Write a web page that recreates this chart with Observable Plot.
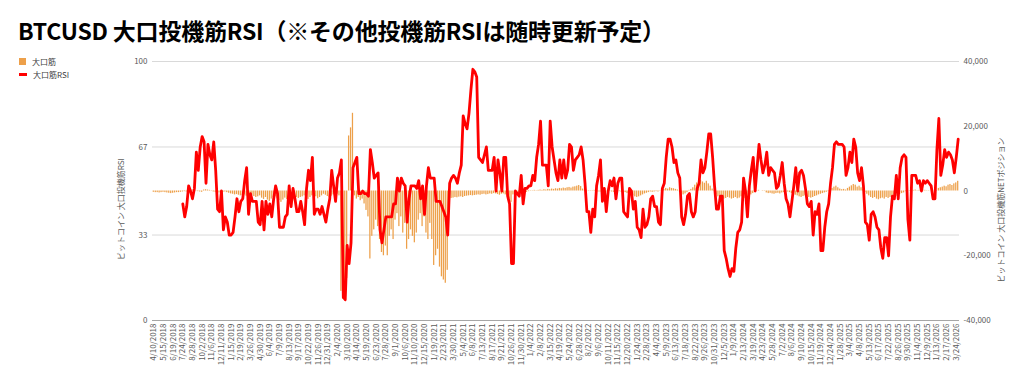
<!DOCTYPE html>
<html>
<head>
<meta charset="utf-8">
<script src="https://cdn.jsdelivr.net/npm/d3@7"></script>
<script src="https://cdn.jsdelivr.net/npm/@observablehq/plot@0.6"></script>
<style>
  body { margin: 0; background: #fff; }
  #wrap { position: relative; width: 1024px; height: 380px; overflow: hidden; font-family: "Noto Sans CJK JP", "Noto Sans", sans-serif; }
  #title { position: absolute; left: 18px; top: 13px; font-size: 23px; font-weight: 700; color: #000; white-space: nowrap; letter-spacing: -0.2px; }
  #legend { position: absolute; left: 19px; top: 55px; font-size: 8px; color: #404040; line-height: 13px; }
  .li { display: flex; align-items: center; height: 13px; }
  .sw { display: inline-block; margin-right: 6px; }
  #chart { position: absolute; left: 0; top: 50px; }
  .ytitle { position: absolute; font-size: 8px; color: #595959; white-space: nowrap; transform: translate(-50%, -50%) rotate(-90deg); }
</style>
</head>
<body>
<div id="wrap">
  <div id="title"></div>
  <div id="legend"></div>
  <div id="chart"></div>
  <div class="ytitle" id="ytl" style="left:120px; top:209px;"></div>
  <div class="ytitle" id="ytr" style="left:1000px; top:210px;"></div>
</div>
<script>
// ---- Text ----
const titleText = "BTCUSD 大口投機筋RSI（※その他投機筋RSIは随時更新予定）";
const seriesNames = ["大口筋", "大口筋RSI"];
const leftAxisTitle = "ビットコイン 大口投機筋RSI";
const rightAxisTitle = "ビットコイン 大口投機筋NETポジション";

// ---- Categories (weekly, Tuesdays) ----
const firstWeek = "2018-04-10";
const tickLabels = [
  "4/10/2018","5/15/2018","6/19/2018","7/24/2018","8/28/2018","10/2/2018","11/6/2018","12/11/2018",
  "1/15/2019","2/19/2019","3/26/2019","4/30/2019","6/4/2019","7/9/2019","8/13/2019","9/17/2019","10/22/2019","11/26/2019","12/31/2019",
  "2/4/2020","3/10/2020","4/14/2020","5/19/2020","6/23/2020","7/28/2020","9/1/2020","10/6/2020","11/10/2020","12/15/2020",
  "1/19/2021","2/23/2021","3/30/2021","5/4/2021","6/8/2021","7/13/2021","8/17/2021","9/21/2021","10/26/2021","11/30/2021",
  "1/4/2022","2/8/2022","3/15/2022","4/19/2022","5/24/2022","6/28/2022","8/2/2022","9/6/2022","10/11/2022","11/15/2022","12/20/2022",
  "1/24/2023","2/28/2023","4/4/2023","5/9/2023","6/13/2023","7/18/2023","8/22/2023","9/26/2023","10/31/2023","12/5/2023",
  "1/9/2024","2/13/2024","3/19/2024","4/23/2024","5/28/2024","7/2/2024","8/6/2024","9/10/2024","10/15/2024","11/19/2024","12/24/2024",
  "1/28/2025","3/4/2025","4/8/2025","5/13/2025","6/17/2025","7/22/2025","8/26/2025","9/30/2025","11/4/2025","12/9/2025",
  "1/13/2026","2/17/2026","3/24/2026"
];

// ---- Axis ticks ----
const leftTicks = [0, 33, 67, 100];
const rightTicks = [-40000, -20000, 0, 20000, 40000];
const rightTickLabels = ["-40,000", "-20,000", "0", "20,000", "40,000"];

// ---- Series: large speculators net position (contracts), one per week from 4/10/2018 ----
const netPositions = [
  -400,-500,-500,-600,-500,-400,-500,-600,-700,-800,-700,-600,-500,-500,-400,-300,
  -200,-300,-100,200,300,200,100,-200,-300,-400,300,400,300,200,-100,-300,-400,-500,-600,-500,-400,-300,-500,-700,
  -900,-1000,-1200,-1100,-1300,-1500,-1400,-1200,-1600,-1800,-1500,-1300,-1700,-2000,-1800,
  -1500,-2200,-2600,-2000,-2800,-3200,-2500,-2000,-1800,-2400,-3000,-3500,-2800,-2200,-2600,-3300,-3800,-3000,-2500,-2000,-2300,
  -2000,-1800,-1500,-2200,-2600,-2000,-1500,-1200,-1800,-2400,-2000,-1500,-1000,-1300,-1700,-2000,-1600,-1200,-800,-1000,-1500,
  -31000,-33500,-33000,-27000,17000,19500,24000,
  -1500,-2500,-2000,-3000,-2500,-4000,-6000,-8000,-21000,-14000,
  -12000,-9000,-11000,-15000,-19000,-20000,-17000,-20000,-14000,-12000,
  -15000,-9000,-7000,-11000,-8000,-13000,-10000,-18000,-15000,-12000,
  -14000,-16000,-13000,-9000,-7000,-11000,-8000,-13000,-15000,-10000,
  -15000,-23000,-20000,-18000,-23500,-26500,-27500,-28500,-24500,
  -2500,-2300,-2200,-2000,-2100,-1900,-1800,-2000,-1700,-1600,-1500,-1400,-1500,
  -1400,-1300,-1200,-1300,-1100,-1000,-1200,-1100,-900,-1000,-800,-900,-1100,-1300,-1000,-900,-1200,
  -1500,-2500,-3500,-1200,
  -600,-500,-700,-400,-500,-300,-400,-200,-100,100,
  200,100,200,300,200,400,300,500,400,600,
  500,700,600,800,700,900,800,1000,1100,900,
  1200,1300,1500,1700,1400,600,300,200,100,-100,
  100,200,-200,-300,
  -300,-500,-400,-300,-200,-100,-300,-400,-500,-300,-200,-400,-600,-500,-800,-1000,-1200,-1500,-1800,-2000,
  -1800,-1500,-1200,-900,-700,-500,-300,-400,-300,-200,-300,-100,
  300,500,800,600,1000,800,700,500,300,-200,
  -800,-1200,-900,-500,200,500,1000,1800,2500,3000,
  3300,2800,2400,3000,2200,1500,600,200,
  -1200,-1800,-2200,-2000,-2500,-2300,-2000,-2200,-2500,-2300,
  -2000,-2400,-2200,-1800,-2000,-2300,-1800,-1500,-1200,-800,
  -200,100,200,0,-100,100,
  -600,-800,-700,-900,-1000,-800,-700,-900,-600,-500,-400,
  -300,-500,-800,-1000,-1300,-1500,-1800,-2000,-1700,-1500,
  -1800,-2000,-2200,-2000,-1700,-1500,-1200,-1000,-800,-600,
  -400,-200,100,
  800,1200,1500,1000,600,400,500,300,800,1200,1600,2000,1800,1200,1500,1000,400,
  -500,-1000,-1500,-2000,-2300,-2000,-2500,-2700,-2400,-2200,-2500,-2000,-2300,-2000,-1800,-1500,-1700,-1400,-1000,-800,-600,
  -200,0,100,-100,200,300,100,200,400,300,200,100,-100,0,100,0,100,
  800,1000,1200,1500,1300,1800,2000,1700,2200,2500,3000
];

// ---- Series: RSI of the net position, weekly from 7/24/2018 ----
const rsiFirstWeek = "7/24/2018";
const rsiValues = [
  45,40,44,52,50,47,51,65,58,67,
  71,69,53,68,64,62,69,58,43,42,
  50,35,40,38,33,33,34,40,47,42,
  46,47,54,59,41,49,46,46,46,38,
  37,46,35,46,41,45,40,47,52,49,
  36,36,36,40,41,52,44,51,47,42,
  42,46,42,37,51,58,54,63,41,43,
  43,41,44,41,38,43,47,58,52,46,
  55,57,62,9,8,29,22,30,59,61,
  63,49,49,50,49,49,48,66,61,55,
  56,57,35,30,35,40,40,40,40,45,
  45,55,50,55,53,52,38,47,52,52,
  52,51,54,47,52,41,52,59,55,55,
  55,46,46,46,44,42,40,33,53,55,
  56,55,53,57,60,79,76,74,80,89,
  97,96,94,63,62,61,64,67,58,58,
  58,63,50,62,57,50,63,63,48,45,
  22,22,50,49,48,56,45,51,51,52,
  52,56,54,63,68,77,60,60,60,52,
  77,67,62,57,54,62,55,62,55,58,
  68,67,58,62,63,64,67,62,53,42,
  42,34,43,40,52,56,62,46,51,42,
  50,54,52,55,47,53,55,55,42,41,
  40,51,50,43,46,36,35,32,43,36,
  37,40,47,48,44,44,38,37,51,53,
  63,70,70,67,61,62,57,55,40,37,
  41,48,49,42,40,42,51,53,62,57,
  59,65,72,72,63,52,43,43,48,48,
  27,24,20,17,20,19,28,34,35,38,
  55,50,40,52,58,63,50,59,68,62,
  57,60,65,56,59,58,57,51,52,56,
  61,53,47,45,40,46,52,59,50,57,
  58,56,51,45,44,46,33,42,41,45,
  27,27,36,42,45,53,59,68,69,68,
  68,68,67,56,59,65,61,70,67,57,
  54,59,52,38,37,31,41,42,40,36,
  35,28,24,32,32,25,40,48,47,56,
  47,59,63,64,63,39,31,56,56,56,
  53,54,50,54,53,54,53,52,47,47,
  66,78,56,60,66,63,65,64,62,57,
  63,70
];

// ---- Build table ----
const fmt = d3.utcFormat("%-m/%-d/%Y");
const start = new Date(firstWeek + "T00:00:00Z");
const weeks = netPositions.map((_, i) => fmt(d3.utcDay.offset(start, 7 * i)));
const rsiStart = weeks.indexOf(rsiFirstWeek);
const table = weeks.map((date, i) => ({
  date,
  net: netPositions[i],
  rsi: i >= rsiStart && i - rsiStart < rsiValues.length ? rsiValues[i - rsiStart] : null
}));

// right (net position) axis shares the plot with the RSI axis: -40,000..40,000 <-> 0..100
const netMax = 40000;
const toRsiSpace = v => 50 + 50 * v / netMax;

const chart = Plot.plot({
  width: 1024,
  height: 330,
  marginTop: 11,
  marginBottom: 60,
  marginLeft: 152,
  marginRight: 65,
  style: { fontFamily: '"Noto Sans CJK JP", "Noto Sans", sans-serif', fontSize: "8px", color: "#595959", background: "transparent", overflow: "visible" },
  x: { type: "band", domain: weeks, padding: 0.35, label: null },
  y: { domain: [0, 100], label: null },
  marks: [
    Plot.ruleY(leftTicks.filter(d => d > 0), { stroke: "#d9d9d9", strokeWidth: 1 }),
    Plot.barY(table, { x: "date", y1: 50, y2: d => toRsiSpace(d.net), fill: "#eda04a" }),
    Plot.ruleY([0], { stroke: "#a6a6a6", strokeWidth: 1 }),
    Plot.line(table, { x: "date", y: "rsi", stroke: "#ff0000", strokeWidth: 2.8, strokeLinejoin: "round", strokeLinecap: "round" }),
    Plot.axisY({ anchor: "left", ticks: leftTicks, tickSize: 0, tickPadding: 5, label: null, fill: "#595959" }),
    Plot.axisY({ anchor: "right", ticks: rightTicks.map(toRsiSpace), tickFormat: d => rightTickLabels[rightTicks.map(toRsiSpace).indexOf(d)], tickSize: 0, tickPadding: 4, label: null, fill: "#595959" }),
    Plot.axisX({ ticks: tickLabels, tickRotate: -90, tickSize: 0, tickPadding: 3, label: null, fill: "#595959" })
  ]
});
document.getElementById("chart").appendChild(chart);

document.getElementById("title").textContent = titleText;
document.getElementById("ytl").textContent = leftAxisTitle;
document.getElementById("ytr").textContent = rightAxisTitle;
document.getElementById("legend").innerHTML =
  `<div class="li"><span class="sw" style="width:7px;height:7px;background:#eda04a"></span>${seriesNames[0]}</div>` +
  `<div class="li"><span class="sw" style="width:8px;height:2.5px;background:#ff0000;margin-left:0"></span>${seriesNames[1]}</div>`;
</script>
</body>
</html>
